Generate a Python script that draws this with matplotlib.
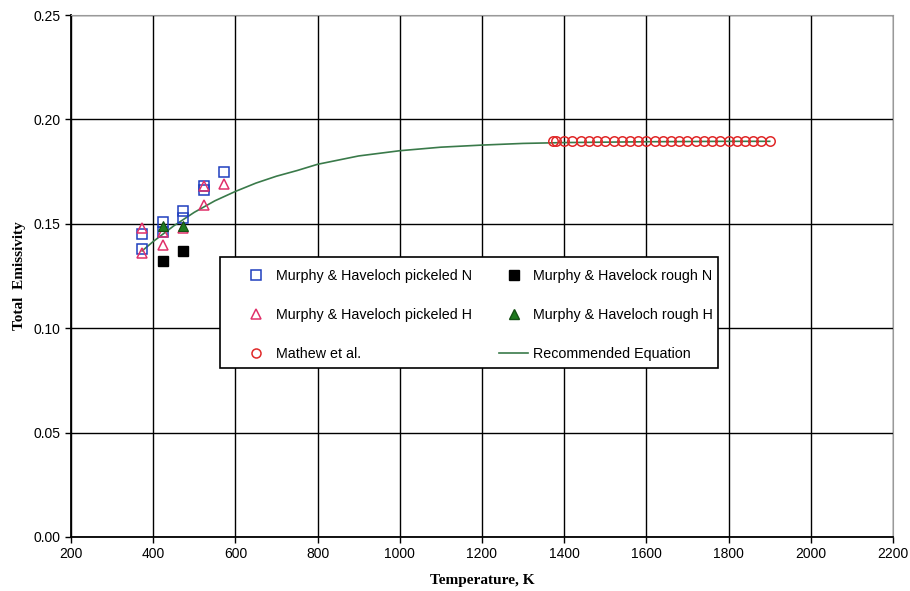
import matplotlib
matplotlib.use("Agg")
import matplotlib.pyplot as plt
from matplotlib.lines import Line2D
from matplotlib.patches import Rectangle

# Murphy & Haveloch pickeled N (squares, blue)
pn_T = [373, 373, 423, 423, 473, 473, 523, 523, 573]
pn_e = [0.138, 0.145, 0.151, 0.146, 0.156, 0.153, 0.168, 0.166, 0.175]
# Murphy & Haveloch pickeled H (triangles, red)
ph_T = [373, 373, 423, 423, 473, 523, 523, 573]
ph_e = [0.148, 0.136, 0.146, 0.140, 0.148, 0.168, 0.159, 0.169]
# Murphy & Havelock rough N (filled squares, black)
rn_T = [423, 473]
rn_e = [0.132, 0.137]
# Murphy & Haveloch rough H (filled triangles, green)
rh_T = [423, 473]
rh_e = [0.149, 0.149]
# Mathew et al. (open circles)
ma_T = [1373, 1380, 1400, 1420, 1440, 1460, 1480, 1500, 1520, 1540, 1560, 1580,
        1600, 1620, 1640, 1660, 1680, 1700, 1720, 1740, 1760, 1780, 1800, 1820,
        1840, 1860, 1880, 1900]
ma_e = [0.1895] * len(ma_T)
# Recommended equation
eq_T = [373, 400, 450, 500, 550, 600, 650, 700, 750, 800, 900, 1000, 1100,
        1200, 1300, 1400, 1500, 1600, 1700, 1800, 1900]
eq_e = [0.137, 0.1415, 0.149, 0.1555, 0.161, 0.1655, 0.1695, 0.1728, 0.1755,
        0.1785, 0.1825, 0.185, 0.1867, 0.1877, 0.1885, 0.1889, 0.1891, 0.1893,
        0.1894, 0.1895, 0.1895]

x_ticks = list(range(200, 2201, 200))
y_ticks = [0.00, 0.05, 0.10, 0.15, 0.20, 0.25]

blue = "#1f3fbf"
red = "#e0306a"
circ = "#e02828"
green = "#1e7a1e"
line_green = "#3a7a4a"

fig = plt.figure(figsize=(9.1, 5.91), dpi=100)
ax = fig.add_axes([0.078, 0.0914, 0.9033, 0.8832])

ax.set_xlim(200, 2200)
ax.set_ylim(0, 0.25)
ax.set_xticks(x_ticks)
ax.set_yticks(y_ticks)
ax.set_yticklabels([f"{v:.2f}" for v in y_ticks])
ax.grid(True, color="black", linewidth=1.0)
ax.set_axisbelow(True)

for s in ["top", "right"]:
    ax.spines[s].set_color("#999999")
    ax.spines[s].set_linestyle((0, (2, 1)))
for s in ["left", "bottom"]:
    ax.spines[s].set_linewidth(1.3)
ax.tick_params(direction="out", length=4, width=1, labelsize=10)
for lab in ax.get_xticklabels() + ax.get_yticklabels():
    lab.set_fontfamily("Liberation Sans")

ax.plot(eq_T, eq_e, color=line_green, linewidth=1.2, zorder=3)
ax.plot(pn_T, pn_e, "s", ms=7, mfc="none", mec=blue, mew=1.1, zorder=4)
ax.plot(ph_T, ph_e, "^", ms=7, mfc="none", mec=red, mew=1.1, zorder=4)
ax.plot(rn_T, rn_e, "s", ms=7, color="black", zorder=4)
ax.plot(rh_T, rh_e, "^", ms=7, mfc=green, mec="#145014", mew=0.8, zorder=5)
ax.plot(ma_T, ma_e, "o", ms=6.8, mfc="none", mec=circ, mew=1.1, zorder=4)

# legend frame drawn separately so the inner padding can differ per side
ax.add_patch(Rectangle((0.181, 0.324), 0.606, 0.212, transform=ax.transAxes,
                       facecolor="white", edgecolor="black", linewidth=1.2,
                       zorder=9))

handles = [
    Line2D([], [], ls="none", marker="s", ms=6.5, mfc="none", mec=blue, mew=1.1),
    Line2D([], [], ls="none", marker="^", ms=6.5, mfc="none", mec=red, mew=1.1),
    Line2D([], [], ls="none", marker="o", ms=6.5, mfc="none", mec=circ, mew=1.1),
    Line2D([], [], ls="none", marker="s", ms=6.5, color="black"),
    Line2D([], [], ls="none", marker="^", ms=6.5, mfc=green, mec="#145014"),
    Line2D([], [], color=line_green, linewidth=1.2),
]
labels = ["Murphy & Haveloch pickeled N", "Murphy & Haveloch pickeled H",
          "Mathew et al.", "Murphy & Havelock rough N",
          "Murphy & Haveloch rough H", "Recommended Equation"]
leg = ax.legend(handles, labels, ncol=2, loc="lower left",
                bbox_to_anchor=(0.208, 0.337, 0.573, 0.18), mode="expand",
                borderaxespad=0, borderpad=0, frameon=False,
                prop={"family": "Liberation Sans", "size": 10.3},
                handlelength=2.0, handletextpad=0.35, labelspacing=1.75,
                columnspacing=1.0)
leg.set_zorder(10)

ax.set_xlabel("Temperature, K", fontfamily="Liberation Serif",
              fontweight="bold", fontsize=11, labelpad=9)
ax.set_ylabel("Total  Emissivity", fontfamily="Liberation Serif",
              fontweight="bold", fontsize=11, labelpad=5)

fig.savefig("out.png", dpi=100)
